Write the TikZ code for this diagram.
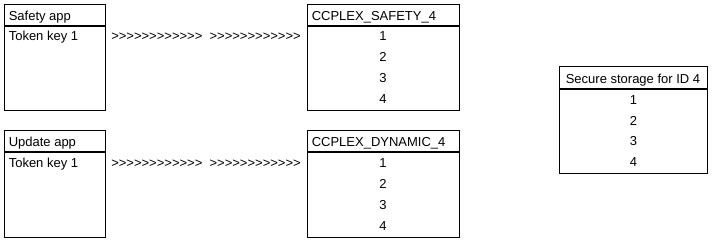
\documentclass[tikz,border=0pt]{standalone}
\usepackage{fontspec}
\setmainfont{Liberation Sans}[Ligatures=TeXOff]

\tikzset{
  tblhead/.style={draw, line width=0.75pt, anchor=north west, inner sep=0pt, minimum height=15.75pt},
  tblbody/.style={draw, line width=0.75pt, anchor=north west, inner sep=0pt, minimum height=63pt},
  lefttxt/.style={anchor=base west, inner sep=0pt},
  celltxt/.style={anchor=base, inner sep=0pt},
}

\begin{document}
\begin{tikzpicture}[x=0.75pt, y=-0.75pt, font=\fontsize{9.75pt}{11pt}\selectfont]
  \useasboundingbox (0,0) rectangle (713,241);

  % Safety app table
  \node[tblhead, minimum width=75.75pt] (safetyhead) at (4,4) {};
  \node[tblbody, minimum width=75.75pt] (safety) at (safetyhead.south west) {};
  \node[lefttxt] (safetytitle) at (8.5,20.3) {Safety app};
  \node[lefttxt] (safetykey) at (8.5,40.7) {Token key 1};

  % CCPLEX_SAFETY_4 table
  \node[tblhead, minimum width=114pt] (ccsafetyhead) at (307,4) {};
  \node[tblbody, minimum width=114pt] (ccsafety) at (ccsafetyhead.south west) {};
  \node[lefttxt] (ccsafetytitle) at (311.5,20.3) {CCPLEX\_SAFETY\_4};
  \foreach \n/\y in {1/40.7, 2/61.7, 3/82.7, 4/103.7}
    \node[celltxt] (ccsafety\n) at (383,\y) {\n};

  % token flow, safety
  \node[celltxt] (safetyflow) at (206,40.7) {>>>>>>>>>>>>\ \ >>>>>>>>>>>>};

  % Update app table
  \node[tblhead, minimum width=75.75pt] (updatehead) at (4,130) {};
  \node[tblbody, minimum width=75.75pt, minimum height=63.75pt] (update) at (updatehead.south west) {};
  \node[lefttxt] (updatetitle) at (8.5,146.5) {Update app};
  \node[lefttxt] (updatekey) at (8.5,167.4) {Token key 1};

  % CCPLEX_DYNAMIC_4 table
  \node[tblhead, minimum width=114pt] (ccdynamichead) at (307,130) {};
  \node[tblbody, minimum width=114pt, minimum height=63.75pt] (ccdynamic) at (ccdynamichead.south west) {};
  \node[lefttxt] (ccdynamictitle) at (311.5,146.5) {CCPLEX\_DYNAMIC\_4};
  \foreach \n/\y in {1/167.4, 2/188.4, 3/209.4, 4/230.4}
    \node[celltxt] (ccdynamic\n) at (383,\y) {\n};

  % token flow, update
  \node[celltxt] (updateflow) at (206,167.4) {>>>>>>>>>>>>\ \ >>>>>>>>>>>>};

  % Secure storage table
  \node[tblhead, minimum width=111pt, minimum height=16.5pt] (securehead) at (559,66) {};
  \node[tblbody, minimum width=111pt] (secure) at (securehead.south west) {};
  \node[celltxt] (securetitle) at (633,84) {Secure storage for ID 4};
  \foreach \n/\y in {1/104.7, 2/125.2, 3/145.7, 4/166.2}
    \node[celltxt] (secure\n) at (633.5,\y) {\n};
\end{tikzpicture}
\end{document}
